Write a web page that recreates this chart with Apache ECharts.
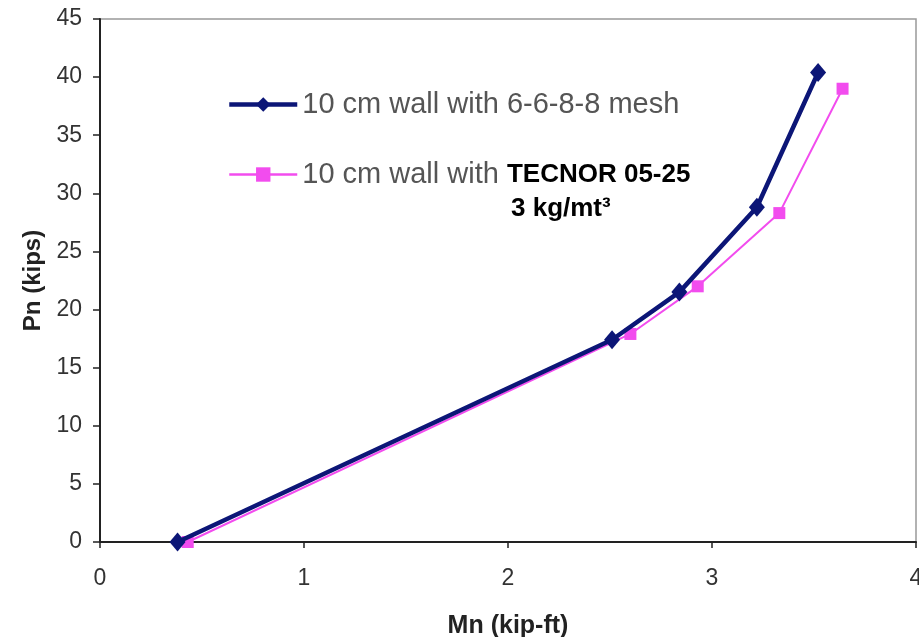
<!DOCTYPE html>
<html><head><meta charset="utf-8">
<script src="https://cdn.jsdelivr.net/npm/echarts@6/dist/echarts.min.js"></script>
<style>html,body{margin:0;padding:0;background:#fff}#c{width:919px;height:637px}</style>
</head><body><div id="c"></div>
<script>
const meshMn = [0.38, 2.51, 2.84, 3.22, 3.52];
const meshPn = [0, 17.4, 21.5, 28.8, 40.4];
const tecnorMn = [0.43, 2.60, 2.93, 3.33, 3.64];
const tecnorPn = [0, 17.9, 22.0, 28.3, 39.0];
const seriesNames = ['10 cm wall with 6-6-8-8 mesh', '10 cm wall with TECNOR 05-25'];
const xTicks = [0, 1, 2, 3, 4];
const yTicks = [0, 5, 10, 15, 20, 25, 30, 35, 40, 45];

const chart = echarts.init(document.getElementById('c'));
const font = 'Liberation Sans, Arial, sans-serif';
const blue = '#0c1677', pink = '#f24cee';
chart.setOption({
  animation: false,
  backgroundColor: '#fff',
  grid: { left: 100, right: 3, top: 19, bottom: 95, outerBoundsMode: 'none', containLabel: false,
          show: true, borderColor: '#999', borderWidth: 1.5 },
  xAxis: {
    type: 'value', min: xTicks[0], max: xTicks[xTicks.length - 1], interval: 1,
    name: 'Mn (kip-ft)', nameLocation: 'middle', nameGap: 72,
    nameTextStyle: { fontFamily: font, fontSize: 25, fontWeight: 'bold', color: '#222' },
    axisLine: { lineStyle: { color: '#222', width: 2 } },
    axisTick: { show: true, length: 6, lineStyle: { color: '#222', width: 1.5 } },
    axisLabel: { fontFamily: font, fontSize: 23, color: '#333', margin: 25 },
    splitLine: { show: false }
  },
  yAxis: {
    type: 'value', min: yTicks[0], max: yTicks[yTicks.length - 1], interval: 5,
    name: 'Pn (kips)', nameLocation: 'middle', nameGap: 45, nameRotate: 90,
    nameTextStyle: { fontFamily: font, fontSize: 24, fontWeight: 'bold', color: '#222' },
    axisLine: { show: true, lineStyle: { color: '#222', width: 2 } },
    axisTick: { show: true, length: 7, lineStyle: { color: '#222', width: 1.5 } },
    axisLabel: { fontFamily: font, fontSize: 23, color: '#333', margin: 18 },
    splitLine: { show: false }
  },
  legend: {
    orient: 'vertical', left: 222, top: 85, itemGap: 41,
    itemWidth: 68, itemHeight: 18,
    textStyle: { fontFamily: font, fontSize: 29, color: '#555',
      rich: { b: { fontFamily: font, fontSize: 26, fontWeight: 'bold', color: '#000' } } },
    formatter: function (n) {
      if (n === seriesNames[1]) return '10 cm wall with {b|TECNOR 05-25}';
      return n;
    },
    data: [
      { name: seriesNames[0], lineStyle: { width: 4.5, color: blue } },
      { name: seriesNames[1], lineStyle: { width: 2.5, color: pink } }
    ]
  },
  graphic: [{
    type: 'text', left: 511, top: 196,
    style: { text: '3 kg/mt³', fontFamily: font, fontSize: 26, fontWeight: 'bold', fill: '#000' }
  }],
  series: [
    {
      name: seriesNames[0], type: 'line', data: meshMn.map((x, i) => [x, meshPn[i]]),
      symbol: 'diamond', symbolSize: [16, 19],
      lineStyle: { color: blue, width: 4.5 }, itemStyle: { color: blue }, z: 3
    },
    {
      name: seriesNames[1], type: 'line', data: tecnorMn.map((x, i) => [x, tecnorPn[i]]),
      symbol: 'rect', symbolSize: 12,
      lineStyle: { color: pink, width: 2 }, itemStyle: { color: pink }, z: 2
    }
  ]
});
</script></body></html>
